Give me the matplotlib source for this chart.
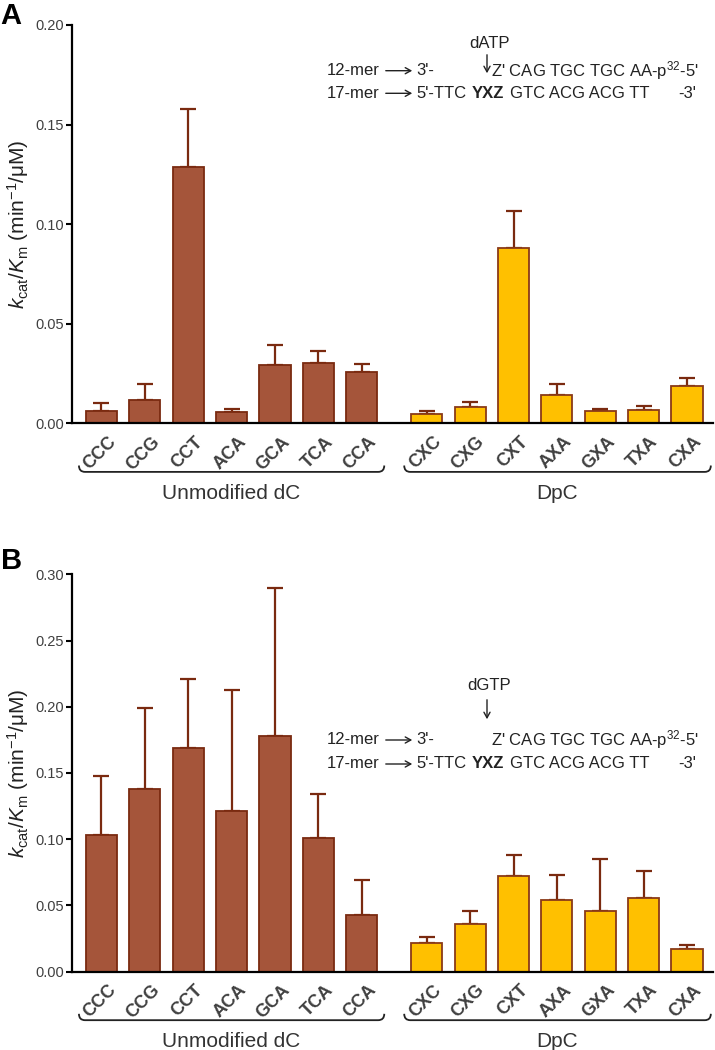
import numpy as np
import matplotlib
matplotlib.use('Agg')
import matplotlib.pyplot as plt
import matplotlib.transforms as mtransforms
from matplotlib.path import Path
from matplotlib.patches import PathPatch

plt.rcParams['font.family'] = ['Liberation Sans', 'DejaVu Sans']
plt.rcParams['mathtext.fontset'] = 'custom'
plt.rcParams['mathtext.rm'] = 'Liberation Sans'
plt.rcParams['mathtext.it'] = 'Liberation Sans:italic'
plt.rcParams['mathtext.bf'] = 'Liberation Sans:bold'

# categories
unmod_labels = ['CCC', 'CCG', 'CCT', 'ACA', 'GCA', 'TCA', 'CCA']
dpc_labels = ['CXC', 'CXG', 'CXT', 'AXA', 'GXA', 'TXA', 'CXA']

# panel A (dATP)
a_unmod = [0.0062, 0.0116, 0.1286, 0.0058, 0.0292, 0.0303, 0.0258]
a_unmod_err = [0.0042, 0.0080, 0.0291, 0.0016, 0.0100, 0.0058, 0.0042]
a_dpc = [0.0047, 0.0084, 0.0882, 0.0144, 0.0063, 0.0067, 0.0189]
a_dpc_err = [0.0016, 0.0023, 0.0182, 0.0054, 0.0009, 0.0018, 0.0036]

# panel B (dGTP)
b_unmod = [0.1035, 0.1378, 0.1690, 0.1211, 0.1780, 0.1010, 0.0425]
b_unmod_err = [0.0445, 0.0612, 0.0520, 0.0919, 0.1120, 0.0330, 0.0266]
b_dpc = [0.0214, 0.0360, 0.0726, 0.0543, 0.0462, 0.0560, 0.0174]
b_dpc_err = [0.0048, 0.0102, 0.0156, 0.0186, 0.0387, 0.0201, 0.0027]

brown = '#A5553A'
brown_edge = '#7A2A10'
yellow = '#FFC000'
yellow_edge = '#8A3A18'
tick_col = '#404040'

W, H = 715, 1050
fig = plt.figure(figsize=(W / 100, H / 100), dpi=100)


def fx(x):
    return x / W


def fy(y):
    return 1 - y / H


pos_u = np.arange(7)
pos_d = np.arange(7) + 7.5


def brace(ax, x0, x1, y, h=0.016, dx=0.14):
    tr = mtransforms.blended_transform_factory(ax.transData, ax.transAxes)
    verts = [(x0, y + h), (x0, y), (x0 + dx, y), (x1 - dx, y), (x1, y), (x1, y + h)]
    codes = [Path.MOVETO, Path.CURVE3, Path.CURVE3, Path.LINETO, Path.CURVE3, Path.CURVE3]
    ax.add_patch(PathPatch(Path(verts, codes), transform=tr, fill=False,
                           lw=1.3, color='#222222', clip_on=False))


def panel(rect, u, ue, d, de, ymax):
    ax = fig.add_axes(rect)
    ax.bar(pos_u, u, width=0.72, color=brown, edgecolor=brown_edge, lw=1.3, zorder=2)
    ax.bar(pos_d, d, width=0.72, color=yellow, edgecolor=yellow_edge, lw=1.3, zorder=2)
    ax.errorbar(pos_u, u, yerr=[np.zeros(7), ue], fmt='none', ecolor=brown_edge,
                elinewidth=1.6, capsize=6, capthick=1.6, zorder=1)
    ax.errorbar(pos_d, d, yerr=[np.zeros(7), de], fmt='none', ecolor=brown_edge,
                elinewidth=1.6, capsize=6, capthick=1.6, zorder=1)
    ax.set_xlim(-0.68, 14.1)
    ax.set_ylim(0, ymax)
    ax.set_yticks(np.arange(0, ymax + 0.001, 0.05))
    ax.yaxis.set_major_formatter(matplotlib.ticker.FormatStrFormatter('%.2f'))
    for s in ['top', 'right']:
        ax.spines[s].set_visible(False)
    for s in ['left', 'bottom']:
        ax.spines[s].set_linewidth(1.6)
    ax.tick_params(axis='y', length=4, width=1.5, labelsize=10.5, labelcolor=tick_col, pad=2)
    ax.set_xticks(np.concatenate([pos_u, pos_d]))
    ax.set_xticklabels(unmod_labels + dpc_labels, fontsize=13, fontweight='bold',
                       color=tick_col)
    ax.tick_params(axis='x', length=0, pad=11.5)
    off = mtransforms.ScaledTranslation(12 / 100, 0, fig.dpi_scale_trans)
    for lbl in ax.get_xticklabels():
        lbl.set_rotation(45)
        lbl.set_ha('right')
        lbl.set_va('center')
        lbl.set_rotation_mode('anchor')
        lbl.set_transform(lbl.get_transform() + off)
    ax.set_ylabel(r'$k_{\rm cat}/K_{\rm m}$ (min$^{-1}$/μM)', fontsize=15, color='#222222')
    ax.yaxis.set_label_coords(-0.064, 0.5)
    brace(ax, pos_u[0] - 0.52, pos_u[-1] + 0.52, -0.122)
    brace(ax, pos_d[0] - 0.52, pos_d[-1] + 0.55, -0.122)
    ax.text(pos_u.mean(), -0.175, 'Unmodified dC', transform=ax.get_xaxis_transform(),
            ha='center', va='center', fontsize=15, color='#333333')
    ax.text(pos_d.mean(), -0.175, 'DpC', transform=ax.get_xaxis_transform(),
            ha='center', va='center', fontsize=15, color='#333333')
    return ax


axA = panel([fx(72), fy(423.3), fx(641), 398.3 / H], a_unmod, a_unmod_err, a_dpc, a_dpc_err, 0.20)
axB = panel([fx(72), fy(971.7), fx(641), 397.4 / H], b_unmod, b_unmod_err, b_dpc, b_dpc_err, 0.30)

fig.text(fx(0), fy(2), 'A', fontsize=21, fontweight='bold', ha='left', va='top')
fig.text(fx(1), fy(547), 'B', fontsize=21, fontweight='bold', ha='left', va='top')


def sequence(nuc, ynuc, ya0, ya1, y1, y2):
    fs = 12
    col = '#222222'
    fig.text(fx(489), fy(ynuc), nuc, fontsize=fs, ha='center', va='center', color=col)
    fig.add_artist(matplotlib.patches.FancyArrowPatch((fx(487), fy(ya0)), (fx(487), fy(ya1)),
                   transform=fig.transFigure, arrowstyle='->,head_length=4,head_width=2.2',
                   lw=1.0, color=col))
    for yy, name in [(y1, '12-mer'), (y2, '17-mer')]:
        fig.text(fx(327), fy(yy), name, fontsize=fs, ha='left', va='center', color=col)
        fig.add_artist(matplotlib.patches.FancyArrowPatch((fx(383), fy(yy)), (fx(415), fy(yy)),
                       transform=fig.transFigure, arrowstyle='->,head_length=4,head_width=2.2',
                       lw=1.0, color=col))
    fig.text(fx(416), fy(y1), "3'-", fontsize=fs, ha='left', va='center', color=col)
    fig.text(fx(491), fy(y1), "Z' CAG TGC TGC AA-p$^{32}$-5'", fontsize=fs, ha='left',
             va='center', color=col)
    fig.text(fx(416), fy(y2), "5'-TTC", fontsize=fs, ha='left', va='center', color=col)
    fig.text(fx(472), fy(y2), "YXZ", fontsize=fs, fontweight='bold', ha='left',
             va='center', color=col)
    fig.text(fx(510), fy(y2), "GTC ACG ACG TT", fontsize=fs, ha='left', va='center', color=col)
    fig.text(fx(678), fy(y2), "-3'", fontsize=fs, ha='left', va='center', color=col)


sequence('dATP', 43, 52, 76, 70.7, 93.3)
sequence('dGTP', 686, 697, 722, 740, 764)

fig.savefig('out.png', dpi=100)
